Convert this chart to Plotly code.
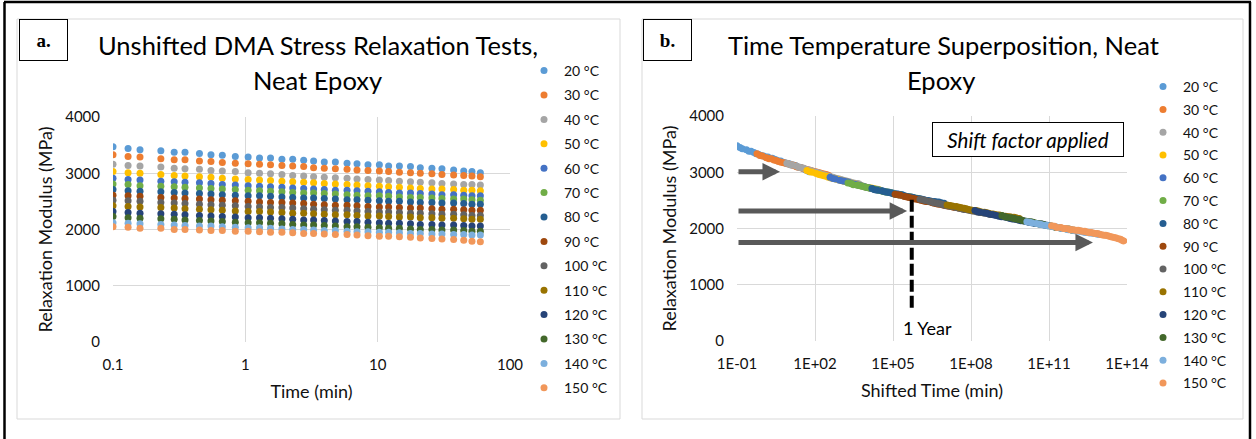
import plotly.graph_objects as go
import math

W, H = 1256, 439
FONT = "Lato, 'Open Sans', sans-serif"

# ---------------- data ----------------
temps = ["20 °C", "30 °C", "40 °C", "50 °C", "60 °C", "70 °C", "80 °C",
         "90 °C", "100 °C", "110 °C", "120 °C", "130 °C", "140 °C", "150 °C"]
colors = ["#5B9BD5", "#ED7D31", "#A5A5A5", "#FFC000", "#4472C4", "#70AD47", "#255E91",
          "#9E480E", "#636363", "#997300", "#264478", "#43682B", "#7CAFDD", "#F1975A"]

time_min = [0.10, 0.13, 0.16, 0.23, 0.29, 0.35, 0.45, 0.55, 0.67, 0.84, 1.05,
            1.28, 1.55, 1.89, 2.28, 2.76, 3.28, 3.95, 4.79, 5.87, 6.98, 8.45,
            10.3, 12.1, 14.6, 17.7, 21.0, 25.7, 30.6, 37.5, 44.7, 51.6, 59.7]

mod_20 = [3470, 3440, 3420, 3400, 3375, 3375, 3350, 3330, 3320, 3300, 3290, 3270, 3270, 3250, 3250, 3230, 3220,
          3200, 3200, 3180, 3170, 3150, 3150, 3130, 3130, 3120, 3100, 3090, 3080, 3060, 3040, 3030, 3010]
mod_30 = [3330, 3300, 3290, 3260, 3240, 3240, 3220, 3210, 3190, 3180, 3170, 3160, 3150, 3140, 3130, 3120, 3100,
          3090, 3080, 3070, 3060, 3050, 3040, 3030, 3020, 3010, 3000, 2990, 2980, 2970, 2960, 2950, 2940]
mod_40 = [3160, 3140, 3130, 3110, 3090, 3080, 3070, 3050, 3040, 3030, 3010, 3000, 2990, 2980, 2960, 2950, 2940,
          2930, 2920, 2910, 2900, 2890, 2880, 2870, 2860, 2850, 2840, 2830, 2820, 2810, 2800, 2800, 2790]
mod_50 = [3030, 3010, 3000, 2980, 2960, 2950, 2940, 2930, 2910, 2900, 2890, 2880, 2870, 2860, 2850, 2840, 2830,
          2820, 2810, 2800, 2790, 2780, 2770, 2760, 2750, 2740, 2730, 2720, 2720, 2710, 2700, 2700, 2690]
mod_60 = [2910, 2890, 2880, 2860, 2850, 2840, 2830, 2820, 2800, 2790, 2780, 2770, 2760, 2750, 2740, 2730, 2720,
          2710, 2700, 2700, 2690, 2680, 2670, 2660, 2650, 2650, 2640, 2630, 2620, 2620, 2610, 2600, 2600]
mod_70 = [2810, 2800, 2780, 2770, 2760, 2750, 2740, 2730, 2720, 2710, 2700, 2690, 2680, 2670, 2660, 2650, 2650,
          2640, 2630, 2620, 2610, 2600, 2600, 2590, 2580, 2570, 2570, 2560, 2550, 2540, 2540, 2530, 2520]
mod_80 = [2710, 2690, 2680, 2670, 2660, 2650, 2640, 2630, 2620, 2610, 2600, 2600, 2590, 2580, 2570, 2560, 2560,
          2550, 2540, 2530, 2530, 2520, 2510, 2500, 2500, 2490, 2480, 2480, 2470, 2470, 2460, 2450, 2450]
mod_90 = [2610, 2600, 2590, 2570, 2560, 2550, 2540, 2530, 2520, 2510, 2500, 2490, 2480, 2480, 2470, 2460, 2450,
          2440, 2430, 2430, 2420, 2410, 2400, 2400, 2390, 2380, 2380, 2370, 2360, 2360, 2350, 2340, 2340]
mod_100 = [2520, 2510, 2500, 2480, 2470, 2460, 2450, 2440, 2430, 2420, 2410, 2400, 2390, 2390, 2380, 2370, 2360,
           2350, 2340, 2340, 2330, 2320, 2310, 2310, 2300, 2290, 2290, 2280, 2270, 2270, 2260, 2250, 2250]
mod_110 = [2420, 2410, 2400, 2390, 2380, 2370, 2360, 2350, 2340, 2330, 2320, 2320, 2310, 2300, 2290, 2290, 2280,
           2270, 2260, 2260, 2250, 2240, 2240, 2230, 2220, 2220, 2210, 2210, 2200, 2200, 2190, 2180, 2180]
mod_120 = [2320, 2300, 2290, 2280, 2270, 2260, 2250, 2240, 2230, 2220, 2210, 2210, 2200, 2190, 2180, 2170, 2170,
           2160, 2150, 2140, 2140, 2130, 2120, 2110, 2110, 2100, 2090, 2090, 2080, 2080, 2070, 2060, 2060]
mod_130 = [2230, 2210, 2200, 2190, 2180, 2170, 2160, 2150, 2140, 2130, 2120, 2120, 2110, 2100, 2090, 2080, 2080,
           2070, 2060, 2050, 2050, 2040, 2030, 2020, 2020, 2010, 2000, 2000, 1990, 1990, 1980, 1970, 1970]
mod_140 = [2120, 2110, 2100, 2090, 2080, 2070, 2060, 2060, 2050, 2040, 2030, 2030, 2020, 2010, 2000, 2000, 1990,
           1980, 1980, 1970, 1960, 1960, 1950, 1950, 1940, 1930, 1930, 1920, 1920, 1910, 1910, 1900, 1900]
mod_150 = [2050, 2040, 2020, 2020, 2000, 2000, 1990, 1980, 1980, 1970, 1970, 1960, 1950, 1950, 1940, 1930, 1930,
           1920, 1910, 1910, 1900, 1890, 1880, 1880, 1870, 1860, 1850, 1840, 1830, 1820, 1810, 1790, 1780]

modulus_series = [mod_20, mod_30, mod_40, mod_50, mod_60, mod_70, mod_80,
                  mod_90, mod_100, mod_110, mod_120, mod_130, mod_140, mod_150]

# log10 of horizontal shift factor aT applied to each temperature
log_shift = [0.0, 0.77, 1.92, 2.69, 3.58, 4.27, 5.19, 6.08, 7.04, 8.08, 9.15, 10.19, 11.15, 12.1]

# tick labels
a_xticks = [0.1, 1, 10, 100]
a_xticktext = ["0.1", "1", "10", "100"]
b_xticks = [1e-1, 1e2, 1e5, 1e8, 1e11, 1e14]
b_xticktext = ["1E-01", "1E+02", "1E+05", "1E+08", "1E+11", "1E+14"]
y_ticks = [0, 1000, 2000, 3000, 4000]

# annotation helpers (panel b)
arrow_y = [3010, 2310, 1750]
arrow_tip_min = [4.5, 3.5e5, 4.9e12]
one_year_min = 525600
one_year_y = [2510, 590]

# ---------------- figure ----------------
fig = go.Figure()

for name, col, mod in zip(temps, colors, modulus_series):
    fig.add_trace(go.Scatter(
        x=time_min, y=mod, mode="markers", name=name,
        marker=dict(color=col, size=7, line=dict(width=0)),
        xaxis="x", yaxis="y", legend="legend", legendgroup="a" + name,
    ))

for name, col, mod, sh in zip(temps, colors, modulus_series, log_shift):
    fig.add_trace(go.Scatter(
        x=[t * 10 ** sh for t in time_min], y=mod, mode="markers", name=name,
        marker=dict(color=col, size=7, line=dict(width=0)),
        xaxis="x2", yaxis="y2", legend="legend2", legendgroup="b" + name,
    ))

# dashed 1-year marker
fig.add_trace(go.Scatter(
    x=[one_year_min, one_year_min], y=one_year_y, mode="lines",
    line=dict(color="black", width=4, dash="12px,4px"),
    xaxis="x2", yaxis="y2", showlegend=False, hoverinfo="skip",
))

def px_x(p):
    return p / W

def px_y(p):
    return 1 - p / H

grid = "#d9d9d9"
tickfont = dict(family=FONT, size=15, color="#111")
axtitlefont = dict(family=FONT, size=18, color="#111")

common_y = dict(range=[0, 4000], tickvals=y_ticks, showgrid=True, gridcolor=grid, gridwidth=1,
                zeroline=False, showline=False, ticks="", tickfont=tickfont,
                ticklabelstandoff=12, fixedrange=True, automargin=False)
common_x = dict(type="log", showgrid=True, gridcolor=grid, gridwidth=1, zeroline=False,
                showline=False, ticks="", tickfont=tickfont, ticklabelstandoff=12, automargin=False)

fig.update_layout(
    template="none",
    width=W, height=H, autosize=False,
    margin=dict(l=0, r=0, t=0, b=0, pad=0, autoexpand=False),
    paper_bgcolor="white", plot_bgcolor="white",
    font=dict(family=FONT, color="#111"),
    hovermode="closest",
    xaxis=dict(common_x, domain=[px_x(113), px_x(510)], range=[-1, 2], anchor="y",
               tickvals=a_xticks, ticktext=a_xticktext,
               title=dict(text="Time (min)", font=axtitlefont, standoff=13)),
    yaxis=dict(common_y, domain=[px_y(342), px_y(117)], anchor="x",
               title=dict(text="Relaxation Modulus (MPa)", font=axtitlefont, standoff=7)),
    xaxis2=dict(common_x, domain=[px_x(737), px_x(1127)], range=[-1, 14], anchor="y2",
                tickvals=b_xticks, ticktext=b_xticktext,
                title=dict(text="Shifted Time (min)", font=axtitlefont, standoff=13)),
    yaxis2=dict(common_y, domain=[px_y(341), px_y(116)], anchor="x2",
                title=dict(text="Relaxation Modulus (MPa)", font=axtitlefont, standoff=7)),
    legend=dict(x=px_x(524), y=px_y(55), xanchor="left", yanchor="top",
                font=dict(family=FONT, size=14, color="#111"), bgcolor="rgba(0,0,0,0)",
                tracegroupgap=3.2, itemclick=False, itemdoubleclick=False),
    legend2=dict(x=px_x(1143), y=px_y(71), xanchor="left", yanchor="top",
                 font=dict(family=FONT, size=14, color="#111"), bgcolor="rgba(0,0,0,0)",
                 tracegroupgap=1.6, itemclick=False, itemdoubleclick=False),
    showlegend=True,
)

shapes = [
    # chart frames
    dict(type="rect", xref="paper", yref="paper", x0=px_x(17), x1=px_x(620), y0=px_y(419), y1=px_y(19),
         line=dict(color=grid, width=1), layer="below"),
    dict(type="rect", xref="paper", yref="paper", x0=px_x(642), x1=px_x(1243), y0=px_y(419), y1=px_y(19),
         line=dict(color=grid, width=1), layer="below"),
    # outer black border (top, left, right)
    dict(type="line", xref="paper", yref="paper", x0=px_x(4), x1=px_x(1251), y0=px_y(2), y1=px_y(2),
         line=dict(color="black", width=2.5)),
    dict(type="line", xref="paper", yref="paper", x0=px_x(4.5), x1=px_x(4.5), y0=px_y(2), y1=0,
         line=dict(color="black", width=2.5)),
    dict(type="line", xref="paper", yref="paper", x0=px_x(1250), x1=px_x(1250), y0=px_y(2), y1=0,
         line=dict(color="black", width=2.5)),
]
fig.update_layout(shapes=shapes)

title_font = dict(family=FONT, size=25.5, color="black")
ann = [
    dict(text="Unshifted DMA Stress Relaxation Tests,", x=px_x(318), y=px_y(45)),
    dict(text="Neat Epoxy", x=px_x(317), y=px_y(80)),
    dict(text="Time Temperature Superposition, Neat", x=px_x(943), y=px_y(45)),
    dict(text="Epoxy", x=px_x(941), y=px_y(80)),
]
annotations = []
for a in ann:
    annotations.append(dict(a, xref="paper", yref="paper", xanchor="center", yanchor="middle",
                            showarrow=False, font=title_font))

for lab, cx in [("a.", 43.5), ("b.", 667.5)]:
    annotations.append(dict(text="<b>" + lab + "</b>", x=px_x(cx), y=px_y(40), xref="paper", yref="paper",
                            xanchor="center", yanchor="middle", showarrow=False,
                            font=dict(family="'Liberation Serif', 'DejaVu Serif', serif", size=19, color="black"),
                            bordercolor="black", borderwidth=1, borderpad=0, width=47, height=40))

annotations.append(dict(text="<i>Shift factor applied</i>", x=px_x(1027.5), y=px_y(139), xref="paper", yref="paper",
                        xanchor="center", yanchor="middle", showarrow=False,
                        font=dict(family=FONT, size=20.5, color="black"),
                        bordercolor="black", borderwidth=1, borderpad=2, width=186, height=29,
                        bgcolor="white"))

annotations.append(dict(text="1 Year", x=math.log10(one_year_min), y=230, xref="x2", yref="y2",
                        xanchor="left", yanchor="middle", xshift=-11, showarrow=False,
                        font=dict(family=FONT, size=18, color="black")))

for yv, tip in zip(arrow_y, arrow_tip_min):
    annotations.append(dict(text="", x=math.log10(tip), y=yv, xref="x2", yref="y2",
                            ax=-1, ay=yv, axref="x2", ayref="y2", showarrow=True,
                            arrowhead=2, arrowsize=0.7, arrowwidth=5, arrowcolor="#595959",
                            standoff=0, startstandoff=0))

fig.update_layout(annotations=annotations)

fig.write_html("out.html")
